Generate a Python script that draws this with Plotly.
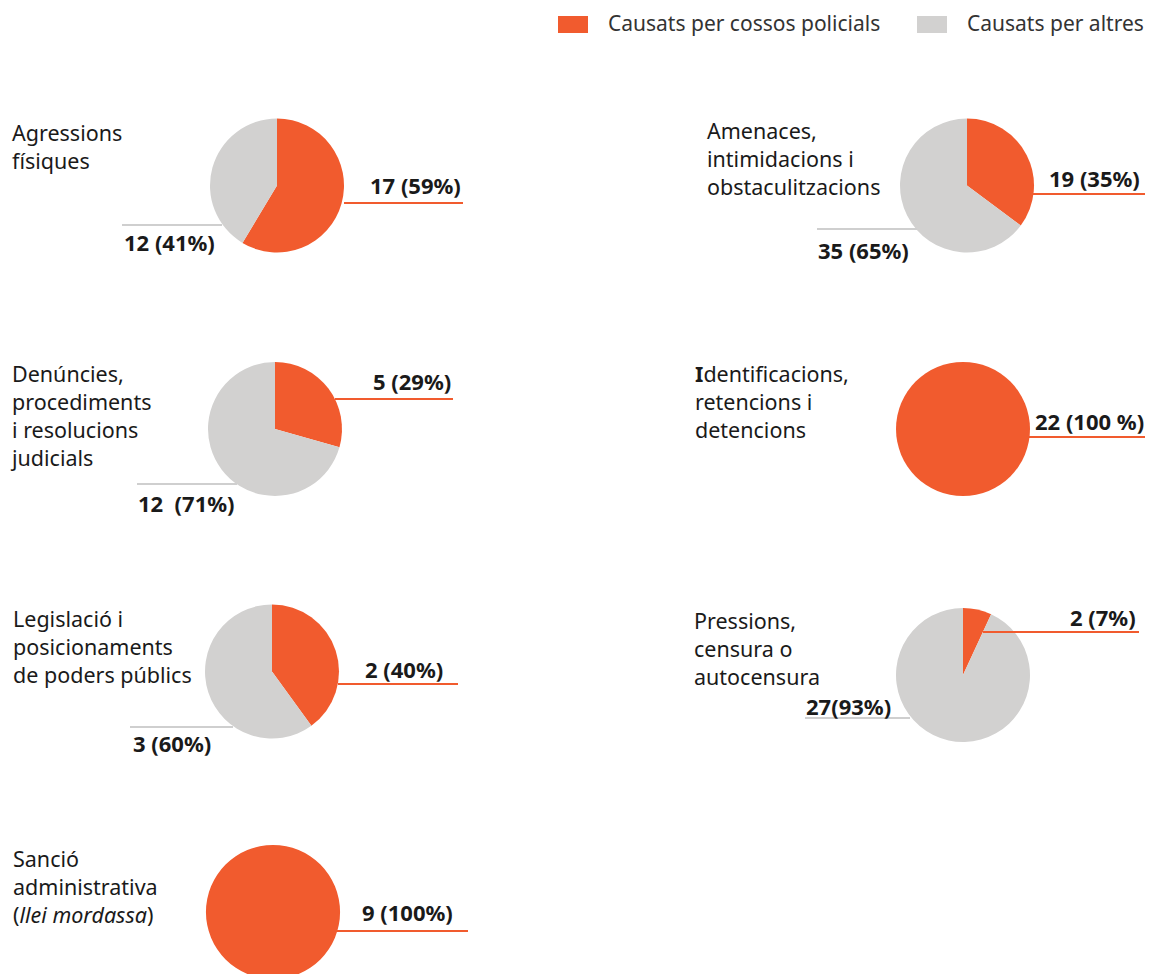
import plotly.graph_objects as go

# page is drawn with an 8px body margin; positions below are page pixels
OFF = 8
W, H = 1170, 990

# ---------------- data ----------------
categories = [
    "Agressions<br>físiques",
    "Amenaces,<br>intimidacions i<br>obstaculitzacions",
    "Denúncies,<br>procediments<br>i resolucions<br>judicials",
    "<b>I</b>dentificacions,<br>retencions i<br>detencions",
    "Legislació i<br>posicionaments<br>de poders públics",
    "Pressions,<br>censura o<br>autocensura",
    "Sanció<br>administrativa<br>(<i>llei mordassa</i>)",
]
police = [17, 19, 5, 22, 2, 2, 9]
others = [12, 35, 12, 0, 3, 27, 0]
police_labels = ["17 (59%)", "19 (35%)", "5 (29%)", "22 (100 %)", "2 (40%)", "2 (7%)", "9 (100%)"]
others_labels = ["12 (41%)", "35 (65%)", "12\u00a0 (71%)", None, "3 (60%)", "27(93%)", None]
series_names = ["Causats per cossos policials", "Causats per altres"]
series_colors = ["#F15B2E", "#D2D1D0"]

# ---------------- layout (page pixel positions) ----------------
R = 67
centers = [(277, 185.5), (967, 185.5), (275, 429), (963, 429), (272, 671.5), (963, 675), (273, 912)]
cat_pos = [(10, 146), (705, 159), (8, 415), (693, 401), (11, 646), (692, 648), (11, 886)]
pol_line = [(344, 463, 203), (1033, 1150, 194), (335, 453, 399), (1028, 1150, 437),
            (338, 458, 684), (983, 1139, 632), (337, 468, 931)]
pol_lab = [(463, 185), (1142, 178), (453, 381), (1146, 421), (445, 669), (1138, 617), (455, 912)]
oth_line = [(122, 222, 225), (817, 917, 229), (137, 237, 484), None, (130, 233, 727), (805, 910, 718), None]
oth_lab = [(122, 242), (816, 250), (136, 503), None, (131, 743), (804, 706), None]

FONT = "Noto Sans"
TXT = "#1a1a1a"
LINE_GREY = "#CFCFCF"


def px(x):
    return (x - OFF) / W


def py(y):
    return 1 - (y - OFF) / H


fig = go.Figure()
annotations = []
shapes = []

for i in range(len(categories)):
    cx, cy = centers[i]
    fig.add_trace(go.Pie(
        labels=series_names,
        values=[police[i], others[i]],
        marker=dict(colors=series_colors, line=dict(width=0)),
        sort=False,
        direction="clockwise",
        rotation=0,
        textinfo="none",
        hoverinfo="label+value+percent",
        showlegend=False,
        domain=dict(x=[px(cx - R), px(cx + R)], y=[py(cy + R), py(cy - R)]),
    ))
    # category label
    x, y = cat_pos[i]
    annotations.append(dict(
        text=categories[i], x=px(x), y=py(y), xref="paper", yref="paper",
        xanchor="left", yanchor="middle", align="left", showarrow=False,
        font=dict(family=FONT, size=21.5, color=TXT),
    ))
    # police value label + leader line
    x0, x1, ly = pol_line[i]
    shapes.append(dict(type="line", xref="paper", yref="paper", x0=px(x0), x1=px(x1),
                       y0=py(ly), y1=py(ly), line=dict(color=series_colors[0], width=2), layer="above"))
    x, y = pol_lab[i]
    annotations.append(dict(
        text="<b>" + police_labels[i] + "</b>", x=px(x), y=py(y), xref="paper", yref="paper",
        xanchor="right", yanchor="middle", showarrow=False,
        font=dict(family=FONT, size=22, color=TXT),
    ))
    if others_labels[i] is not None:
        x0, x1, ly = oth_line[i]
        shapes.append(dict(type="line", xref="paper", yref="paper", x0=px(x0), x1=px(x1),
                           y0=py(ly), y1=py(ly), line=dict(color=LINE_GREY, width=2), layer="above"))
        x, y = oth_lab[i]
        annotations.append(dict(
            text="<b>" + others_labels[i] + "</b>", x=px(x), y=py(y), xref="paper", yref="paper",
            xanchor="left", yanchor="middle", showarrow=False,
            font=dict(family=FONT, size=22, color=TXT),
        ))

# legend (manual)
leg_rects = [(558, 588), (917, 947)]
leg_text = [606, 965]
for k in range(2):
    a, b = leg_rects[k]
    shapes.append(dict(type="rect", xref="paper", yref="paper", x0=px(a), x1=px(b),
                       y0=py(33), y1=py(16), fillcolor=series_colors[k], line=dict(width=0)))
    annotations.append(dict(
        text=series_names[k], x=px(leg_text[k]), y=py(23), xref="paper", yref="paper",
        xanchor="left", yanchor="middle", showarrow=False,
        font=dict(family=FONT, size=21, color="#333333"),
    ))

fig.update_layout(
    width=W, height=H,
    margin=dict(l=0, r=0, t=0, b=0),
    paper_bgcolor="white", plot_bgcolor="white",
    annotations=annotations, shapes=shapes,
    showlegend=False,
)

fig.write_html("out.html")
